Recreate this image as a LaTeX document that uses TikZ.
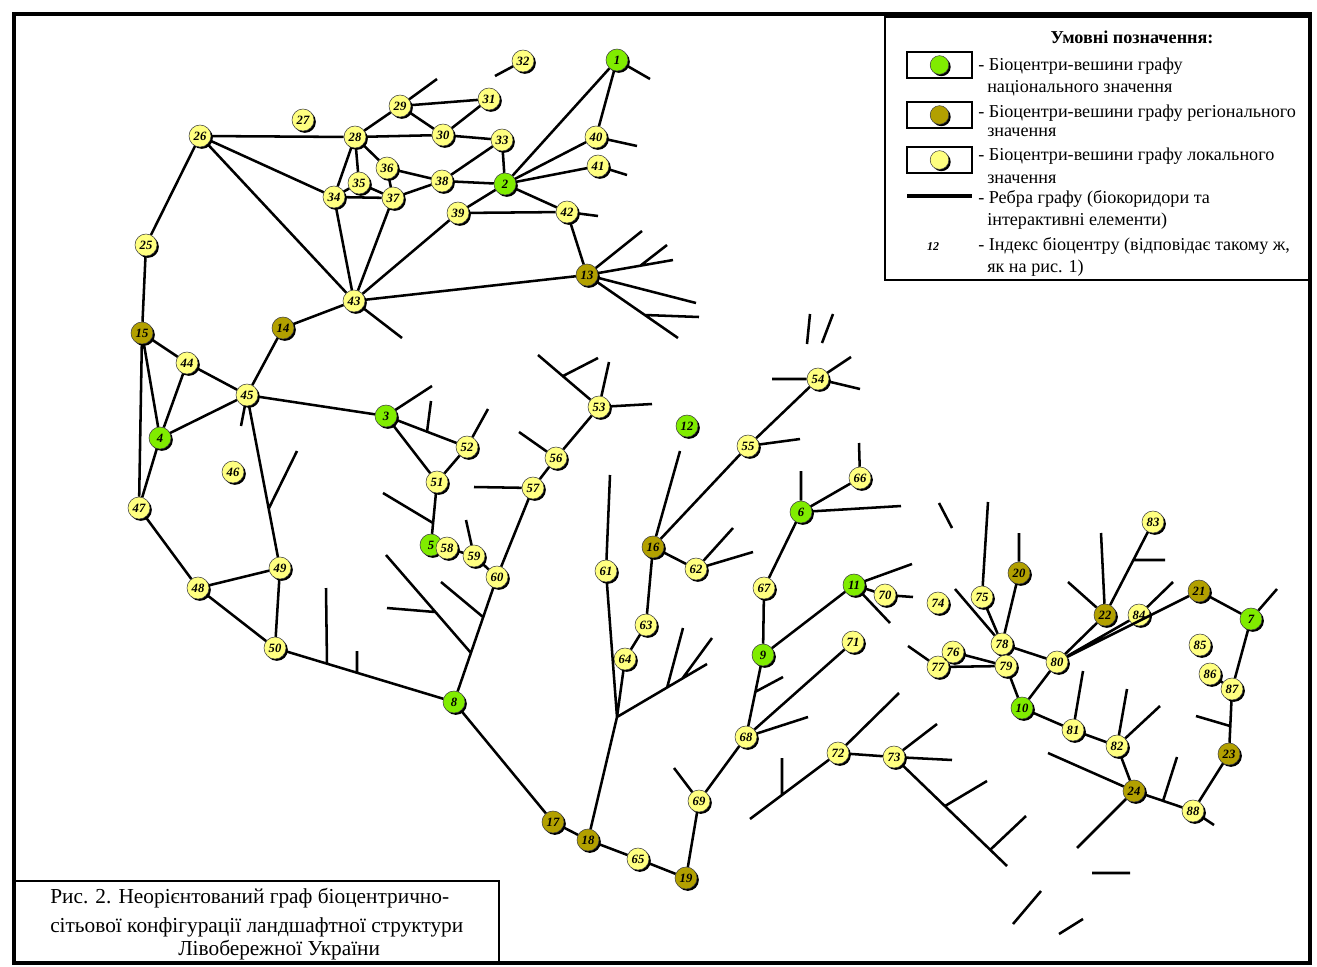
\documentclass[tikz,border=0pt]{standalone}
\usepackage{fontspec}
\setmainfont{Liberation Serif}
\usetikzlibrary{shadows}

\definecolor{natgreen}{RGB}{128,236,0}
\definecolor{regolive}{RGB}{178,160,0}
\definecolor{locyellow}{RGB}{255,255,128}

\begin{document}
\begin{tikzpicture}[x=0.75pt, y=-0.75pt,
    bc/.style={circle, draw=black!75, thin, minimum size=16.5pt, inner sep=0pt,
      font=\fontsize{9.5}{9.5}\selectfont\bfseries\itshape,
      drop shadow={shadow xshift=1.4pt, shadow yshift=-1.4pt, fill=black, opacity=1}},
    nat/.style={bc, fill=natgreen},
    reg/.style={bc, fill=regolive},
    loc/.style={bc, fill=locyellow},
    edge/.style={line width=1.9pt},
    keybox/.style={draw, line width=1.2pt, minimum width=48.75pt, minimum height=19.5pt, inner sep=0pt},
    leg/.style={anchor=base west, inner sep=0pt, font=\fontsize{13.6}{16}\selectfont},
    captext/.style={anchor=base west, inner sep=0pt, font=\fontsize{16}{18}\selectfont}]

  \useasboundingbox (0,0) rectangle (1317,967);
  \draw[line width=2.4pt] (14,14) rectangle (1310,963);

  % legend
  \draw[line width=1.8pt] (885,17) rectangle (1310,280);
  \node[leg, anchor=base, font=\fontsize{13.6}{16}\selectfont\bfseries] (legtitle) at (1132,43) {Умовні позначення:};
  \node[keybox] (keynat) at (939.5,65) {};
  \node[nat, minimum size=14pt] (keynatc) at (keynat) {};
  \node[keybox] (keyreg) at (939.5,115) {};
  \node[reg, minimum size=14pt] (keyregc) at (keyreg) {};
  \node[keybox] (keyloc) at (939.5,160) {};
  \node[loc, minimum size=14pt] (keylocc) at (keyloc) {};
  \coordinate (keyl1) at (907,196);
  \coordinate (keyl2) at (972,196);
  \draw[line width=2.4pt] (keyl1) -- (keyl2);
  \node[font=\fontsize{9}{9}\selectfont\bfseries\itshape] (keyidx) at (933,247) {12};
  \node[leg] (leg1a) at (978,70) {- Біоцентри-вешини графу};
  \node[leg] (leg1b) at (987,92) {національного значення};
  \node[leg] (leg2a) at (978,117) {- Біоцентри-вешини графу регіонального};
  \node[leg] (leg2b) at (987,136) {значення};
  \node[leg] (leg3a) at (978,160) {- Біоцентри-вешини графу локального};
  \node[leg] (leg3b) at (987,183) {значення};
  \node[leg] (leg4a) at (978,203) {- Ребра графу (біокоридори та};
  \node[leg] (leg4b) at (987,225) {інтерактивні елементи)};
  \node[leg] (leg5a) at (978,250) {- Індекс біоцентру (відповідає такому ж,};
  \node[leg] (leg5b) at (987,272) {як на рис. 1)};

  % caption
  \draw[line width=1.8pt] (14,881) rectangle (499,963);
  \node[captext] (cap1) at (50,903) {Рис. 2. Неорієнтований граф біоцентрично-};
  \node[captext] (cap2) at (50,932) {сітьової конфігурації ландшафтної структури};
  \node[captext] (cap3) at (178,955) {Лівобережної України};

  % national biocentres
  \node[nat] (b1) at (617,60) {1};
  \node[nat] (b2) at (505,184) {2};
  \node[nat] (b3) at (386,416) {3};
  \node[nat] (b4) at (160,438) {4};
  \node[nat] (b5) at (431,545) {5};
  \node[nat] (b6) at (801,512) {6};
  \node[nat] (b7) at (1251,619) {7};
  \node[nat] (b8) at (454,702) {8};
  \node[nat] (b9) at (763,655) {9};
  \node[nat] (b10) at (1022,708) {10};
  \node[nat] (b11) at (854,585) {11};
  \node[nat] (b12) at (687,426) {12};

  % regional biocentres
  \node[reg] (b13) at (587,275) {13};
  \node[reg] (b14) at (283,328) {14};
  \node[reg] (b15) at (142,333) {15};
  \node[reg] (b16) at (653,547) {16};
  \node[reg] (b17) at (553,822) {17};
  \node[reg] (b18) at (588,840) {18};
  \node[reg] (b19) at (686,878) {19};
  \node[reg] (b20) at (1019,573) {20};
  \node[reg] (b21) at (1199,591) {21};
  \node[reg] (b22) at (1105,615) {22};
  \node[reg] (b23) at (1229,754) {23};
  \node[reg] (b24) at (1134,791) {24};

  % local biocentres
  \node[loc] (b25) at (146,245) {25};
  \node[loc] (b26) at (200,136) {26};
  \node[loc] (b27) at (303,120) {27};
  \node[loc] (b28) at (355,137) {28};
  \node[loc] (b29) at (400,106) {29};
  \node[loc] (b30) at (443,135) {30};
  \node[loc] (b31) at (489,99) {31};
  \node[loc] (b32) at (523,61) {32};
  \node[loc] (b33) at (502,140) {33};
  \node[loc] (b34) at (334,197) {34};
  \node[loc] (b35) at (359,183) {35};
  \node[loc] (b36) at (387,168) {36};
  \node[loc] (b37) at (393,198) {37};
  \node[loc] (b38) at (442,181) {38};
  \node[loc] (b39) at (458,213) {39};
  \node[loc] (b40) at (596,137) {40};
  \node[loc] (b41) at (598,166) {41};
  \node[loc] (b42) at (567,212) {42};
  \node[loc] (b43) at (354,301) {43};
  \node[loc] (b44) at (187,363) {44};
  \node[loc] (b45) at (247,395) {45};
  \node[loc] (b46) at (233,472) {46};
  \node[loc] (b47) at (139,508) {47};
  \node[loc] (b48) at (198,588) {48};
  \node[loc] (b49) at (280,568) {49};
  \node[loc] (b50) at (275,648) {50};
  \node[loc] (b51) at (437,482) {51};
  \node[loc] (b52) at (467,447) {52};
  \node[loc] (b53) at (599,407) {53};
  \node[loc] (b54) at (818,379) {54};
  \node[loc] (b55) at (748,446) {55};
  \node[loc] (b56) at (556,458) {56};
  \node[loc] (b57) at (533,488) {57};
  \node[loc] (b58) at (447,548) {58};
  \node[loc] (b59) at (474,556) {59};
  \node[loc] (b60) at (497,577) {60};
  \node[loc] (b61) at (606,571) {61};
  \node[loc] (b62) at (696,569) {62};
  \node[loc] (b63) at (646,625) {63};
  \node[loc] (b64) at (625,659) {64};
  \node[loc] (b65) at (638,859) {65};
  \node[loc] (b66) at (860,478) {66};
  \node[loc] (b67) at (764,588) {67};
  \node[loc] (b68) at (746,737) {68};
  \node[loc] (b69) at (699,801) {69};
  \node[loc] (b70) at (885,595) {70};
  \node[loc] (b71) at (853,642) {71};
  \node[loc] (b72) at (838,753) {72};
  \node[loc] (b73) at (894,757) {73};
  \node[loc] (b74) at (938,603) {74};
  \node[loc] (b75) at (982,597) {75};
  \node[loc] (b76) at (953,652) {76};
  \node[loc] (b77) at (938,667) {77};
  \node[loc] (b78) at (1002,644) {78};
  \node[loc] (b79) at (1006,666) {79};
  \node[loc] (b80) at (1057,662) {80};
  \node[loc] (b81) at (1073,730) {81};
  \node[loc] (b82) at (1117,746) {82};
  \node[loc] (b83) at (1153,522) {83};
  \node[loc] (b84) at (1139,615) {84};
  \node[loc] (b85) at (1200,645) {85};
  \node[loc] (b86) at (1210,674) {86};
  \node[loc] (b87) at (1232,689) {87};
  \node[loc] (b88) at (1193,811) {88};

  % free ends of corridors and branching points
  \coordinate (t29) at (437,79);
  \coordinate (t32) at (495,76);
  \coordinate (t1) at (650,79);
  \coordinate (t40) at (637,146);
  \coordinate (t41) at (627,175);
  \coordinate (t42) at (598,216);
  \coordinate (t43) at (402,338);
  \coordinate (t13a) at (642,231);
  \coordinate (t13b) at (673,260);
  \coordinate (j13b) at (640,266);
  \coordinate (t13c) at (667,245);
  \coordinate (t13d) at (696,303);
  \coordinate (t13e) at (678,338);
  \coordinate (j13e) at (645,315);
  \coordinate (t13f) at (699,317);
  \coordinate (t45) at (241,426);
  \coordinate (j45) at (269,508);
  \coordinate (t45b) at (297,451);
  \coordinate (j50a) at (327,664);
  \coordinate (t50a) at (326,588);
  \coordinate (j50b) at (357,673);
  \coordinate (t50b) at (357,651);
  \coordinate (t3) at (432,386);
  \coordinate (j3) at (427,432);
  \coordinate (t3b) at (431,401);
  \coordinate (t52) at (488,409);
  \coordinate (j51) at (433,523);
  \coordinate (t51) at (383,493);
  \coordinate (t59) at (466,520);
  \coordinate (t57) at (474,487);
  \coordinate (t56) at (519,432);
  \coordinate (t53a) at (538,355);
  \coordinate (j53) at (563,376);
  \coordinate (t53b) at (598,358);
  \coordinate (t53c) at (609,362);
  \coordinate (t53d) at (652,404);
  \coordinate (j60a) at (483,617);
  \coordinate (t60a) at (441,582);
  \coordinate (j60b) at (471,653);
  \coordinate (t60b) at (386,555);
  \coordinate (j60c) at (435,612);
  \coordinate (t60c) at (387,608);
  \coordinate (t61) at (610,475);
  \coordinate (j61) at (617,717);
  \coordinate (t61b) at (707,664);
  \coordinate (j61b) at (667,688);
  \coordinate (t61c) at (683,628);
  \coordinate (j61c) at (682,679);
  \coordinate (t61d) at (712,638);
  \coordinate (t16) at (680,451);
  \coordinate (t62a) at (733,528);
  \coordinate (t62b) at (753,552);
  \coordinate (t6a) at (801,471);
  \coordinate (t66) at (859,443);
  \coordinate (t6b) at (901,506);
  \coordinate (t54a) at (772,379);
  \coordinate (t54b) at (851,357);
  \coordinate (t54c) at (860,389);
  \coordinate (t55) at (800,439);
  \coordinate (t11a) at (912,564);
  \coordinate (t11b) at (890,623);
  \coordinate (t70) at (913,597);
  \coordinate (j9) at (755,692);
  \coordinate (t9) at (783,677);
  \coordinate (t68) at (808,717);
  \coordinate (t69) at (674,768);
  \coordinate (t72a) at (899,693);
  \coordinate (t72b) at (750,819);
  \coordinate (j72) at (782,795);
  \coordinate (t72c) at (782,758);
  \coordinate (t73a) at (937,724);
  \coordinate (t73b) at (952,760);
  \coordinate (t73c) at (1007,866);
  \coordinate (j73a) at (945,806);
  \coordinate (t73d) at (987,781);
  \coordinate (j73b) at (990,850);
  \coordinate (t73e) at (1026,816);
  \coordinate (t77) at (908,646);
  \coordinate (t78) at (955,589);
  \coordinate (t75) at (988,502);
  \coordinate (t20) at (1019,533);
  \coordinate (t22a) at (1101,533);
  \coordinate (t22b) at (1068,582);
  \coordinate (j83) at (1133,560);
  \coordinate (t83) at (1165,560);
  \coordinate (t84) at (1173,582);
  \coordinate (t7) at (1277,589);
  \coordinate (j87) at (1230,726);
  \coordinate (t87) at (1196,716);
  \coordinate (t88) at (1214,825);
  \coordinate (j24) at (1163,801);
  \coordinate (t24a) at (1177,757);
  \coordinate (t24b) at (1048,753);
  \coordinate (t24c) at (1077,848);
  \coordinate (t82a) at (1127,689);
  \coordinate (t82b) at (1160,706);
  \coordinate (t81) at (1083,671);

  % loose corridor pieces
  \coordinate (la1) at (810,314);
  \coordinate (la2) at (807,344);
  \coordinate (lb1) at (833,314);
  \coordinate (lb2) at (822,343);
  \coordinate (lc1) at (1013,924);
  \coordinate (lc2) at (1041,891);
  \coordinate (ld1) at (1059,934);
  \coordinate (ld2) at (1083,919);
  \coordinate (le1) at (1092,873);
  \coordinate (le2) at (1130,873);
  \coordinate (lf1) at (939,503);
  \coordinate (lf2) at (952,528);

  % edges: north-west cluster
  \draw[edge] (b26) -- (b28) (b26) -- (b34) (b26) -- (b43) (b26) -- (b25) (b25) -- (b15)
    (b28) -- (b29) (b28) -- (b30) (b28) -- (b34) (b28) -- (b35) (b28) -- (b36)
    (b29) -- (b30) (b29) -- (b31) (b30) -- (b31) (b30) -- (b33) (b29) -- (t29) (b32) -- (t32)
    (b35) -- (b34) (b35) -- (b37) (b34) -- (b37) (b36) -- (b37) (b36) -- (b38) (b37) -- (b38)
    (b34) -- (b43) (b37) -- (b43) (b38) -- (b33) (b38) -- (b2) (b33) -- (b2)
    (b2) -- (b1) (b2) -- (b40) (b2) -- (b41) (b2) -- (b42) (b2) -- (b39) (b39) -- (b42)
    (b39) -- (b43) (b1) -- (b40) (b1) -- (t1) (b40) -- (t40) (b41) -- (t41) (b42) -- (t42)
    (b42) -- (b13) (b13) -- (b43) (b43) -- (b14) (b43) -- (t43)
    (b13) -- (t13a) (b13) -- (t13b) (j13b) -- (t13c) (b13) -- (t13d) (b13) -- (t13e) (j13e) -- (t13f);

  % edges: west
  \draw[edge] (b15) -- (b44) (b15) -- (b4) (b15) -- (b47) (b44) -- (b45) (b44) -- (b4)
    (b4) -- (b45) (b4) -- (b47) (b45) -- (b14) (b45) -- (b3) (b45) -- (b49) (b45) -- (t45)
    (j45) -- (t45b) (b47) -- (b48) (b48) -- (b49) (b48) -- (b50) (b49) -- (b50)
    (b50) -- (b8) (j50a) -- (t50a) (j50b) -- (t50b);

  % edges: centre
  \draw[edge] (b3) -- (b52) (b3) -- (b51) (b3) -- (t3) (j3) -- (t3b) (b52) -- (b51) (b52) -- (t52)
    (b51) -- (b5) (j51) -- (t51) (b58) -- (b59) (b59) -- (t59) (b59) -- (b60)
    (b60) -- (b57) (b57) -- (t57) (b57) -- (b56) (b56) -- (t56) (b56) -- (b53)
    (b53) -- (t53a) (j53) -- (t53b) (b53) -- (t53c) (b53) -- (t53d)
    (b60) -- (b8) (j60a) -- (t60a) (j60b) -- (t60b) (j60c) -- (t60c)
    (b8) -- (b17) (b17) -- (b18) (b18) -- (b65) (b65) -- (b19)
    (b61) -- (t61) (b61) -- (j61) -- (b18) (b64) -- (j61) (j61) -- (t61b) (j61b) -- (t61c) (j61c) -- (t61d)
    (b16) -- (t16) (b16) -- (b55) (b16) -- (b62) (b16) -- (b63) (b63) -- (b64)
    (b62) -- (t62a) (b62) -- (t62b);

  % edges: east-centre
  \draw[edge] (b54) -- (b55) (b55) -- (t55) (b54) -- (t54a) (b54) -- (t54b) (b54) -- (t54c)
    (la1) -- (la2) (lb1) -- (lb2)
    (b6) -- (t6a) (b6) -- (b66) (b66) -- (t66) (b6) -- (t6b) (b6) -- (b67) (b67) -- (b9)
    (b9) -- (b11) (b11) -- (b70) (b11) -- (t11a) (b11) -- (t11b) (b70) -- (t70)
    (b9) -- (b68) (j9) -- (t9) (b68) -- (b71) (b68) -- (t68) (b68) -- (b69) (b69) -- (t69) (b69) -- (b19)
    (b72) -- (b73) (b72) -- (t72a) (b72) -- (t72b) (j72) -- (t72c)
    (b73) -- (t73a) (b73) -- (t73b) (b73) -- (t73c) (j73a) -- (t73d) (j73b) -- (t73e)
    (lc1) -- (lc2) (ld1) -- (ld2) (le1) -- (le2) (lf1) -- (lf2);

  % edges: east
  \draw[edge] (b77) -- (b76) (b76) -- (b79) (b77) -- (b79) (b77) -- (t77) (b78) -- (b79)
    (b78) -- (b75) (b78) -- (b20) (b78) -- (b80) (b78) -- (t78) (b75) -- (t75) (b20) -- (t20)
    (b79) -- (b10) (b10) -- (b80) (b10) -- (b81) (b81) -- (t81) (b81) -- (b82)
    (b82) -- (t82a) (b82) -- (t82b) (b82) -- (b24)
    (b24) -- (b88) (j24) -- (t24a) (b24) -- (t24b) (b24) -- (t24c) (b88) -- (t88)
    (b88) -- (b23) (b23) -- (b87) (j87) -- (t87) (b87) -- (b7) (b86) -- (b87) (b7) -- (t7)
    (b7) -- (b21) (b21) -- (b80) (b84) -- (b80) (b84) -- (t84) (b22) -- (b80)
    (b22) -- (t22a) (b22) -- (t22b) (b83) -- (b22) (j83) -- (t83);
\end{tikzpicture}
\end{document}
